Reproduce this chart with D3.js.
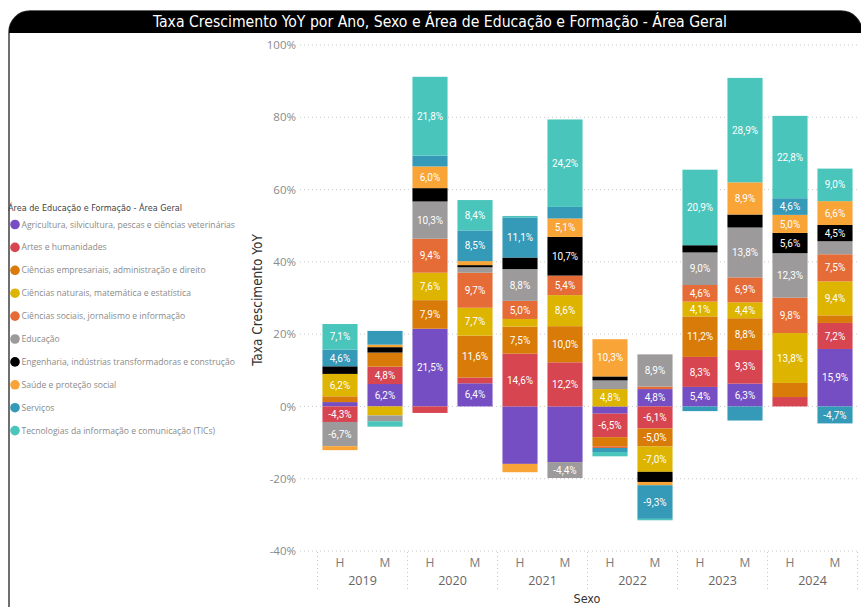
<!DOCTYPE html>
<html>
<head>
<meta charset="utf-8">
<script src="https://cdn.jsdelivr.net/npm/d3@7"></script>
<style>
  html, body { margin: 0; padding: 0; background: #fff; }
  svg { display: block; }
</style>
</head>
<body>
<svg id="chart" width="861" height="607"></svg>
<script>
// ---------- DATA ----------
const years = ["2019", "2020", "2021", "2022", "2023", "2024"];
const sexes = ["H", "M"];
const seriesNames = [
  "Agricultura, silvicultura, pescas e ciências veterinárias",
  "Artes e humanidades",
  "Ciências empresariais, administração e direito",
  "Ciências naturais, matemática e estatística",
  "Ciências sociais, jornalismo e informação",
  "Educação",
  "Engenharia, indústrias transformadoras e construção",
  "Saúde e proteção social",
  "Serviços",
  "Tecnologias da informação e comunicação (TICs)"
];
const seriesColors = ["#744EC2", "#D64550", "#D97B08", "#DDB400", "#E66C37",
                      "#9C9A9A", "#000000", "#F9A437", "#3599B8", "#4AC5BB"];
// values per series, order: 2019H, 2019M, 2020H, 2020M, ... 2024H, 2024M
const agricultura   = [1.2, 6.2, 21.5, 6.4, -15.9, -15.4, -2.0, 4.8, 5.4, 6.3, 0, 15.9];
const artes         = [-4.3, 4.8, -1.8, 1.6, 14.6, 12.2, -6.5, -6.1, 8.3, 9.3, 2.6, 7.2];
const empresariais  = [1.6, 3.9, 7.9, 11.6, 7.5, 10.0, -2.5, -5.0, 11.2, 8.8, 3.9, 2.1];
const naturais      = [6.2, -2.5, 7.6, 7.7, 2.1, 8.6, 4.8, -7.0, 4.1, 4.4, 13.8, 9.4];
const sociais       = [0, 0, 9.4, 9.7, 5.0, 5.4, -0.5, 0.7, 4.6, 6.9, 9.8, 7.5];
const educacao      = [-6.7, -1.6, 10.3, 1.5, 8.8, -4.4, 2.4, 8.9, 9.0, 13.8, 12.3, 3.6];
const engenharia    = [2.1, 1.5, 3.7, 0.6, 3.2, 10.7, 1.1, -2.8, 2.0, 3.6, 5.6, 4.5];
const saude         = [-1.1, 0.7, 6.0, 1.1, -2.3, 5.1, 10.3, -0.9, 0, 8.9, 5.0, 6.6];
const servicos      = [4.6, 3.8, 3.0, 8.5, 11.1, 3.2, -1.1, -9.3, -1.3, -3.9, 4.6, -4.7];
const tics          = [7.1, -1.5, 21.8, 8.4, 0.4, 24.2, -1.2, -0.4, 20.9, 28.9, 22.8, 9.0];
const seriesValues = [agricultura, artes, empresariais, naturais, sociais,
                      educacao, engenharia, saude, servicos, tics];
const yTicks = [-40, -20, 0, 20, 40, 60, 80, 100];
// segments whose data label is not shown in the original (series index, column index)
const hiddenLabels = [[0, 4], [0, 5]];

// ---------- BUILD ----------
const cols = [];
years.forEach(y => sexes.forEach(s => cols.push(y + "|" + s)));
const rows = cols.map((c, i) => {
  const r = { key: c };
  seriesNames.forEach((n, k) => r[n] = seriesValues[k][i]);
  return r;
});

const svg = d3.select("#chart");

// card frame + title bar
const defs = svg.append("defs");
defs.append("clipPath").attr("id", "cardClip")
  .append("rect").attr("x", 9).attr("y", 11).attr("width", 853).attr("height", 620).attr("rx", 21);
svg.append("rect").attr("x", 9).attr("y", 11).attr("width", 853).attr("height", 620).attr("rx", 21)
  .attr("fill", "#fff").attr("stroke", "#333").attr("stroke-width", 1.4);
svg.append("rect").attr("x", 0).attr("y", 0).attr("width", 861).attr("height", 33)
  .attr("fill", "#000").attr("clip-path", "url(#cardClip)");
svg.append("text").attr("x", 440).attr("y", 27)
  .attr("text-anchor", "middle")
  .attr("font-family", "'DejaVu Sans Condensed', 'DejaVu Sans'")
  .attr("font-size", 15).attr("fill", "#fff")
  .attr("textLength", 574).attr("lengthAdjust", "spacingAndGlyphs")
  .text("Taxa Crescimento YoY por Ano, Sexo e Área de Educação e Formação - Área Geral");

// scales
const x = d3.scaleBand().domain(cols).range([317.5, 857.5]).paddingInner(0.22).paddingOuter(0.11);
const y = d3.scaleLinear().domain([-40, 100]).range([551, 45]);

// gridlines
svg.append("g").selectAll("line").data(yTicks).join("line")
  .attr("x1", 300).attr("x2", 857).attr("y1", d => y(d)).attr("y2", d => y(d))
  .attr("stroke", "#c8c8c8").attr("stroke-width", 1).attr("stroke-dasharray", "1,3");

// y axis via d3.axisLeft
const yAxis = svg.append("g").attr("transform", "translate(296,0)")
  .call(d3.axisLeft(y).tickValues(yTicks).tickSize(0).tickPadding(0).tickFormat(d => d + "%"));
yAxis.select(".domain").remove();
yAxis.selectAll("text").attr("font-family", "'Open Sans', 'Noto Sans'").attr("font-size", 11.5)
  .attr("fill", "#8a8a8a");

svg.append("text").attr("transform", "translate(257,300) rotate(-90)")
  .attr("text-anchor", "middle").attr("dy", "0.35em")
  .attr("font-family", "'DejaVu Sans Condensed', 'DejaVu Sans'").attr("font-size", 13.5)
  .attr("fill", "#333").text("Taxa Crescimento YoY");

// x axis: separators and labels
const yearStep = x.step() * 2;
const xStart = 317.5;
const sepXs = d3.range(years.length + 1).map(i => xStart + i * yearStep);
svg.append("g").selectAll("line").data(sepXs).join("line")
  .attr("x1", d => d).attr("x2", d => d).attr("y1", 552).attr("y2", 590)
  .attr("stroke", "#c8c8c8").attr("stroke-dasharray", "1,3");

const xAxis = svg.append("g").attr("transform", "translate(0,558)")
  .call(d3.axisBottom(x).tickSize(0).tickPadding(0).tickFormat(d => d.split("|")[1]));
xAxis.select(".domain").remove();
xAxis.selectAll("text").attr("font-family", "'Open Sans', 'Noto Sans'").attr("font-size", 12)
  .attr("fill", "#7a7a7a");

svg.append("g").selectAll("text").data(years).join("text")
  .attr("x", d => (x(d + "|H") + x(d + "|M") + x.bandwidth()) / 2)
  .attr("y", 585).attr("text-anchor", "middle")
  .attr("font-family", "'Open Sans', 'Noto Sans'").attr("font-size", 12.5).attr("fill", "#666")
  .text(d => d);

svg.append("text").attr("x", 587).attr("y", 603).attr("text-anchor", "middle")
  .attr("font-family", "'DejaVu Sans Condensed', 'DejaVu Sans'").attr("font-size", 12.5)
  .attr("fill", "#333").text("Sexo");

// stacked bars
const stack = d3.stack().keys(seriesNames).order(d3.stackOrderNone).offset(d3.stackOffsetDiverging);
const layers = stack(rows);

const gBars = svg.append("g");
layers.forEach((layer, k) => {
  gBars.append("g").attr("fill", seriesColors[k])
    .selectAll("rect").data(layer).join("rect")
    .attr("x", d => x(d.data.key))
    .attr("width", x.bandwidth())
    .attr("y", d => y(Math.max(d[0], d[1])))
    .attr("height", d => Math.abs(y(d[0]) - y(d[1])));
});

// data labels
const fmt = v => d3.format(".1f")(v).replace(".", ",").replace("−", "-") + "%";
const isHidden = (k, i) => hiddenLabels.some(h => h[0] === k && h[1] === i);
const gLabels = svg.append("g");
layers.forEach((layer, k) => {
  layer.forEach((d, i) => {
    const v = seriesValues[k][i];
    if (Math.abs(v) < 4 || isHidden(k, i)) return;
    gLabels.append("text")
      .attr("x", x(d.data.key) + x.bandwidth() / 2)
      .attr("y", (y(d[0]) + y(d[1])) / 2)
      .attr("dy", "0.36em").attr("text-anchor", "middle")
      .attr("font-family", "Roboto, 'Open Sans'").attr("font-size", 10)
      .attr("fill", "#fff").text(fmt(v));
  });
});

// legend
const legend = svg.append("g");
legend.append("text").attr("x", 8).attr("y", 211)
  .attr("font-family", "'DejaVu Sans Condensed', 'DejaVu Sans'").attr("font-size", 9.5)
  .attr("fill", "#444").attr("textLength", 174).attr("lengthAdjust", "spacingAndGlyphs")
  .text("Área de Educação e Formação - Área Geral");
const items = legend.selectAll("g.item").data(seriesNames).join("g")
  .attr("class", "item")
  .attr("transform", (d, i) => `translate(0,${224.5 + i * 22.9})`);
items.append("circle").attr("cx", 15).attr("cy", 0).attr("r", 4.8)
  .attr("fill", (d, i) => seriesColors[i]);
items.append("text").attr("x", 21.5).attr("y", 0).attr("dy", "0.35em")
  .attr("font-family", "'Open Sans', 'Noto Sans'").attr("font-size", 8.6)
  .attr("fill", "#8a8a8a").text(d => d);
</script>
</body>
</html>
